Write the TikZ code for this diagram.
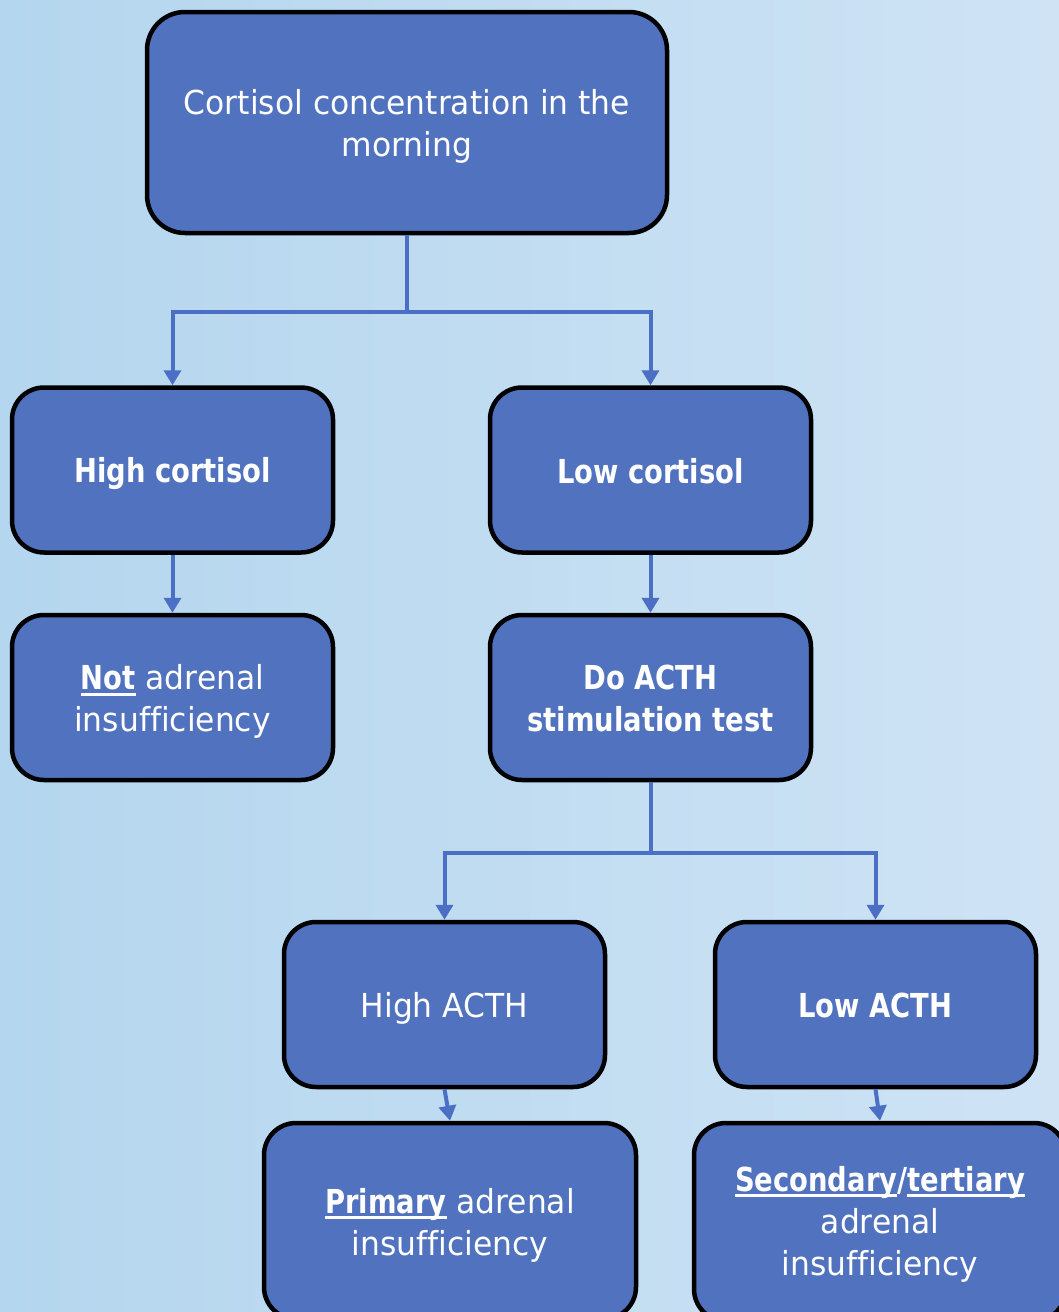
\documentclass[tikz,border=0pt]{standalone}
\usepackage{fontspec}
\setmainfont{DejaVu Sans}[FakeStretch=0.95,Ligatures=NoCommon,BoldFeatures={FakeStretch=0.83}]
\newcommand\ulx[1]{\leavevmode\setbox0\hbox{#1}\rlap{\raisebox{-6pt}{\rule{\wd0}{3pt}}}\box0}
\newcommand\hgt{\rule{0pt}{33pt}}
\newcommand\hgb{\vphantom{g}}
\usetikzlibrary{arrows.meta}
\definecolor{bgL}{HTML}{B4D6EE}
\definecolor{bgR}{HTML}{CFE3F5}
\definecolor{boxfill}{HTML}{5172BE}
\definecolor{arrowc}{HTML}{4A6FC4}
\begin{document}
\begin{tikzpicture}[x=1pt,y=-1pt,
  box/.style={draw=black,line width=4.5pt,fill=boxfill,rounded corners=32pt,
    text=white,align=center,font=\fontsize{33}{42}\selectfont,inner sep=0pt,
    minimum width=321pt,minimum height=165pt},
  arr/.style={draw=arrowc,line width=4pt,-{Triangle[width=17pt,length=15pt]}}]
\useasboundingbox (0,0) rectangle (1059,1312);
\shade[left color=bgL,right color=bgR] (0,0) rectangle (1059,1312);
\clip (0,0) rectangle (1059,1312);
\node[box,minimum width=520pt,minimum height=221pt,rounded corners=38pt] (top) at (407,122.5) {\hgt Cortisol concentration in the\\morning\hgb};
\node[box] (hc) at (172.5,470) {\hgt\hgb\textbf{High cortisol}};
\node[box] (lc) at (650.5,470) {\hgt\hgb\textbf{Low cortisol}};
\node[box] (nai) at (172.5,697.5) {\hgt\textbf{\ulx{Not}} adrenal\\insufficiency\hgb};
\node[box] (acth) at (650.5,697.5) {\hgt\textbf{Do ACTH}\\\textbf{stimulation test}\hgb};
\node[box] (hacth) at (444.5,1004.5) {\hgt\hgb High ACTH};
\node[box] (lacth) at (875.5,1004.5) {\hgt\hgb\textbf{Low ACTH}};
\node[box,minimum width=372pt,minimum height=196pt] (prim) at (450,1221) {\hgt\textbf{\ulx{Primary}} adrenal\\insufficiency\hgb};
\node[box,minimum width=372pt,minimum height=198pt] (sec) at (880,1222) {\rule{0pt}{29pt}\textbf{\ulx{Secondary}/\ulx{tertiary}}\\adrenal\\insufficiency\hgb};
\draw[arr] (top.south) -- ++(0,77) -| (hc.north);
\draw[arr] (top.south) -- ++(0,77) -| (lc.north);
\draw[arr] (hc.south) -- (nai.north);
\draw[arr] (lc.south) -- (acth.north);
\draw[arr] (acth.south) -- ++(0,71) -| (hacth.north);
\draw[arr] (acth.south) -- ++(0,71) -| (lacth.north);
\draw[arr] (hacth.south) -- (prim.north);
\draw[arr] (lacth.south) -- (sec.north);
\end{tikzpicture}
\end{document}
